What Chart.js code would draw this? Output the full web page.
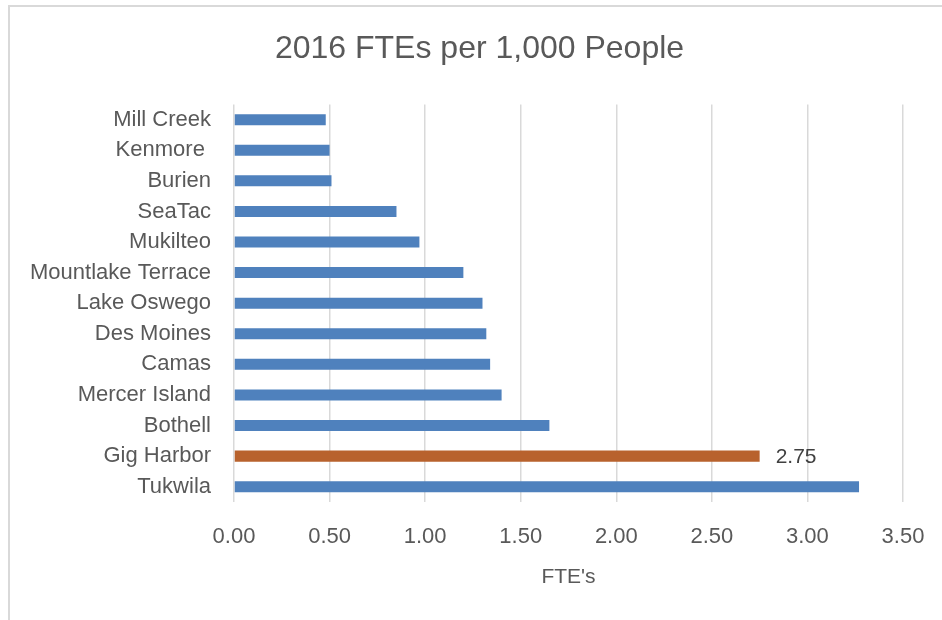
<!DOCTYPE html>
<html>
<head>
<meta charset="utf-8">
<script src="https://cdn.jsdelivr.net/npm/chart.js@4/dist/chart.umd.min.js"></script>
<style>
  html, body { margin: 0; padding: 0; background: #fff; }
  #wrap { position: relative; width: 942px; height: 620px; overflow: hidden; }
  #frame { position: absolute; left: 8px; top: 5px; width: 960px; height: 640px;
           border-left: 2px solid #d9d9d9; border-top: 2px solid #d9d9d9; }
  canvas { position: absolute; left: 0; top: 0; }
</style>
</head>
<body>
<div id="wrap">
  <div id="frame"></div>
  <canvas id="c" width="942" height="620"></canvas>
</div>
<script>
const categories = ["Mill Creek", "Kenmore ", "Burien", "SeaTac", "Mukilteo", "Mountlake Terrace",
  "Lake Oswego", "Des Moines", "Camas", "Mercer Island", "Bothell", "Gig Harbor", "Tukwila"];
const fteValues = [0.48, 0.50, 0.51, 0.85, 0.97, 1.20, 1.30, 1.32, 1.34, 1.40, 1.65, 2.75, 3.27];
const highlightCategory = "Gig Harbor";
const xTickValues = [0, 0.5, 1, 1.5, 2, 2.5, 3, 3.5];

const BLUE = "#4f81bd";
const ORANGE = "#b8622d";
const FONT = "'Liberation Sans', Arial, sans-serif";

const barColors = categories.map(c => c === highlightCategory ? ORANGE : BLUE);

const labelPlugin = {
  id: "highlightLabel",
  afterLayout(chart) {
    // let the category labels extend left of the layout padding without clipping
    chart.scales.y.left = 0;
  },
  afterDatasetsDraw(chart) {
    const meta = chart.getDatasetMeta(0);
    const idx = categories.indexOf(highlightCategory);
    const bar = meta.data[idx];
    const ctx = chart.ctx;
    ctx.save();
    ctx.font = "21px " + FONT;
    ctx.fillStyle = "#404040";
    ctx.textAlign = "left";
    ctx.textBaseline = "middle";
    ctx.fillText(fteValues[idx].toFixed(2), bar.x + 16, bar.y + 1);
    ctx.restore();
  }
};

new Chart(document.getElementById("c"), {
  type: "bar",
  data: {
    labels: categories,
    datasets: [{
      data: fteValues,
      backgroundColor: barColors,
      borderWidth: 0,
      barPercentage: 0.36,
      categoryPercentage: 1.0
    }]
  },
  options: {
    indexAxis: "y",
    responsive: false,
    animation: false,
    devicePixelRatio: 1,
    layout: { padding: { left: 56, right: 39, top: 0, bottom: 0 } },
    plugins: {
      legend: { display: false },
      tooltip: { enabled: false },
      title: {
        display: true,
        text: "2016 FTEs per 1,000 People",
        color: "#595959",
        font: { family: FONT, size: 32, weight: "normal", lineHeight: 1.2 },
        padding: { top: 30, bottom: 36 }
      }
    },
    scales: {
      x: {
        min: 0,
        max: 3.5,
        afterBuildTicks: (scale) => { scale.ticks = xTickValues.map(v => ({ value: v })); },
        afterFit: (scale) => { scale.height = 118; scale.paddingLeft = 0; scale.paddingRight = 0; },
        grid: { color: "#d9d9d9", lineWidth: 1.5, drawTicks: false },
        border: { display: false },
        ticks: {
          color: "#595959",
          padding: 22,
          font: { family: FONT, size: 22 },
          callback: (v) => Number(v).toFixed(2)
        },
        title: {
          display: true,
          text: "FTE's",
          color: "#595959",
          font: { family: FONT, size: 21, lineHeight: 1.2 },
          padding: { top: 4, bottom: 30 }
        }
      },
      y: {
        afterFit: (scale) => { scale.width = 178; },
        grid: { display: false, drawTicks: false },
        border: { display: false },
        ticks: {
          color: "#595959",
          padding: 23,
          font: { family: FONT, size: 22 }
        }
      }
    }
  },
  plugins: [labelPlugin]
});
</script>
</body>
</html>
